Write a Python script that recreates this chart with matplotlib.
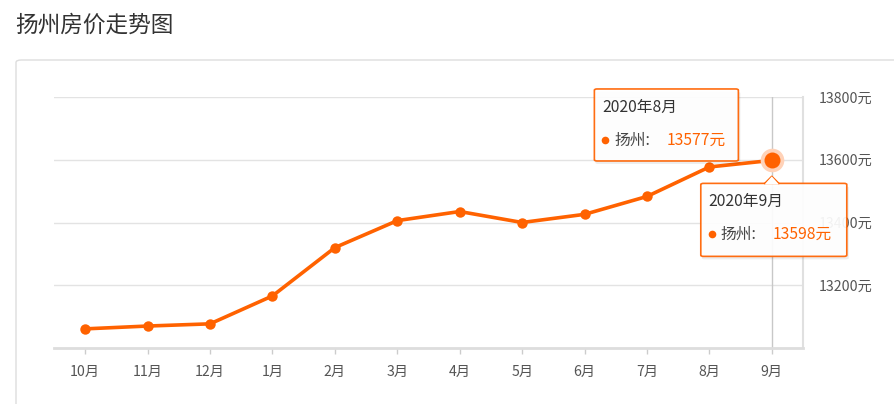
import matplotlib
matplotlib.use("Agg")
import matplotlib.pyplot as plt
from matplotlib.patches import FancyBboxPatch, Polygon
from matplotlib.lines import Line2D

plt.rcParams['font.family'] = ['Noto Sans CJK SC', 'DejaVu Sans']

title = "扬州房价走势图"
city = "扬州"
months = ["10月", "11月", "12月", "1月", "2月", "3月", "4月", "5月", "6月", "7月", "8月", "9月"]
prices = [13061, 13070, 13077, 13166, 13320, 13406, 13435, 13400, 13426, 13483, 13577, 13598]
y_ticks = [13200, 13400, 13600, 13800]
tooltip_items = [(10, "2020年8月"), (11, "2020年9月")]

W, H = 895, 404
fig = plt.figure(figsize=(W / 100, H / 100), dpi=100)
fig.patch.set_facecolor("white")

def fx(px):
    return px / W

def fy(py):
    return 1 - py / H

# card
card = FancyBboxPatch((fx(16), fy(430)), fx(900) - fx(16), fy(60) - fy(430),
                      boxstyle="round,pad=0,rounding_size=0.006",
                      transform=fig.transFigure, facecolor="white",
                      edgecolor="#dddddd", linewidth=1.0, zorder=-5)
fig.patches.append(card)

fig.text(fx(15), fy(25), title, fontsize=16.3, color="#333333", ha="left", va="center")

ax = fig.add_axes([fx(54), fy(348), fx(803) - fx(54), fy(97) - fy(348)])
ax.set_zorder(1)
ax.set_facecolor("none")
x = list(range(len(months)))
ax.set_xlim(-0.5, len(months) - 0.5)
ax.set_ylim(13000, 13800)

ax.set_yticks(y_ticks)
ax.set_yticklabels([f"{v}元" for v in y_ticks])
ax.yaxis.tick_right()
ax.tick_params(axis="y", length=0, pad=11, labelsize=10.2, labelcolor="#555555")
ax.set_xticks(x)
ax.set_xticklabels(months)
ax.tick_params(axis="x", length=4, width=1, color="#cccccc", pad=8, labelsize=10.2, labelcolor="#555555")

for s in ["left", "top"]:
    ax.spines[s].set_visible(False)
ax.spines["bottom"].set_color("#dddddd")
ax.spines["bottom"].set_linewidth(2)
ax.spines["right"].set_color("#e0e0e0")
ax.spines["right"].set_linewidth(1.5)

ax.grid(axis="y", color="#e3e3e3", linewidth=1)
ax.set_axisbelow(True)

# crosshair at hovered point
ax.axvline(x[-1], color="#c8c8c8", linewidth=1, zorder=1)

orange = "#ff6200"
ax.plot(x, prices, color=orange, linewidth=2.6, marker="o", markersize=7.5,
        markeredgewidth=0, zorder=3, solid_capstyle="round")
# highlighted point with halo
ax.plot([x[-1]], [prices[-1]], marker="o", markersize=17, color="#ffd2b8",
        markeredgewidth=0, zorder=4)
ax.plot([x[-1]], [prices[-1]], marker="o", markersize=11.5, color=orange,
        markeredgewidth=0, zorder=5)

fig.canvas.draw()

def to_px(i):
    dx, dy = ax.transData.transform((x[i], prices[i]))
    return dx, H - dy

def tooltip(i, label, left, top, w, h, arrow=False):
    px, py = to_px(i)
    bx0 = px + left
    by0 = py + top
    sh = FancyBboxPatch((fx(bx0 + 1), fy(by0 + h + 3)), fx(w + 1), fy(0) - fy(h),
                        boxstyle="round,pad=0,rounding_size=0.003",
                        transform=fig.transFigure, facecolor="#000000",
                        edgecolor="none", alpha=0.07, zorder=10)
    fig.patches.append(sh)
    box = FancyBboxPatch((fx(bx0), fy(by0 + h)), fx(w), fy(0) - fy(h),
                         boxstyle="round,pad=0,rounding_size=0.003",
                         transform=fig.transFigure, facecolor="white",
                         edgecolor=orange, linewidth=1.2, alpha=0.93, zorder=11)
    fig.patches.append(box)
    if arrow:
        tri = Polygon([(fx(px - 7), fy(by0 + 0.8)), (fx(px), fy(by0 - 7)), (fx(px + 7), fy(by0 + 0.8))],
                      closed=True, transform=fig.transFigure, facecolor="white",
                      edgecolor="none", zorder=12)
        fig.patches.append(tri)
        fig.lines.append(Line2D([fx(px - 7), fx(px), fx(px + 7)],
                                [fy(by0), fy(by0 - 7), fy(by0)],
                                transform=fig.transFigure, color=orange, linewidth=1.2, zorder=12))
    fig.text(fx(bx0 + 8), fy(by0 + 18), label, fontsize=11.3, color="#333333",
             ha="left", va="center", zorder=13)
    fig.lines.append(Line2D([fx(bx0 + 11)], [fy(by0 + 51)], marker="o", markersize=5.5,
                            color=orange, markeredgewidth=0,
                            transform=fig.transFigure, zorder=13))
    fig.text(fx(bx0 + 20), fy(by0 + 51), city + ":", fontsize=11.3, color="#444444",
             ha="left", va="center", zorder=13)
    fig.text(fx(bx0 + 72), fy(by0 + 51), f"{prices[i]}元", fontsize=11.3, color=orange,
             ha="left", va="center", zorder=13)

tooltip(tooltip_items[0][0], tooltip_items[0][1], -115, -78, 144, 72)
tooltip(tooltip_items[1][0], tooltip_items[1][1], -71, 23, 146, 73, arrow=True)

fig.savefig("out.png", dpi=100, facecolor="white")
